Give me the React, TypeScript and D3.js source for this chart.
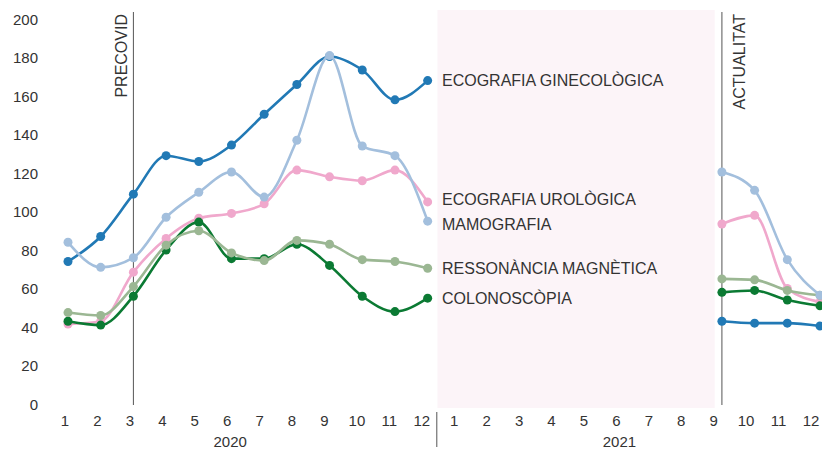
import React from "react";
import * as d3 from "d3";

const years = ["2020", "2021"];
const monthLabels = ["1", "2", "3", "4", "5", "6", "7", "8", "9", "10", "11", "12"];
const categories = years.flatMap((y) => monthLabels.map((m) => `${y}-${m}`));
const yTicks = [0, 20, 40, 60, 80, 100, 120, 140, 160, 180, 200];

const gap = [null, null, null, null, null, null, null, null];
const ginecologica = [74, 87, 109, 129, 126, 134.5, 150.5, 166, 180.5, 173.5, 158, 168, ...gap, 43, 42, 42, 40.5];
const urologica = [41.5, 43, 68.5, 86, 96.5, 99, 104, 121.5, 118, 116, 121.5, 105, ...gap, 93.5, 98, 60, 53];
const ressonancia = [47.5, 46, 61, 82.5, 90, 78.5, 74.5, 85, 83, 75, 74, 70.5, ...gap, 65, 64.5, 59, 56.5];
const colonoscopia = [43, 41, 56, 80, 94.5, 75.5, 75.5, 83, 72, 56, 48, 55, ...gap, 58, 59, 54, 51];
const mamografia = [84, 71, 76, 97, 110, 120.5, 107.5, 137, 181, 134, 129, 95, ...gap, 120.5, 111, 75, 56.5];

const seriesNames = ["ECOGRAFIA GINECOLÒGICA", "ECOGRAFIA UROLÒGICA", "COLONOSCÒPIA", "RESSONÀNCIA MAGNÈTICA", "MAMOGRAFIA"];
const seriesValues = [ginecologica, urologica, colonoscopia, ressonancia, mamografia];
const seriesColors = ["#2179b5", "#f0a8cc", "#0b7a33", "#9bb793", "#a3bfdd"];

const markers = [
  { label: "PRECOVID", cat: "2020-3", side: "left" },
  { label: "ACTUALITAT", cat: "2021-9", side: "right" },
];

const W = 822;
const H = 450;
const FONT = "'Liberation Sans', Arial, Helvetica, sans-serif";
const TEXT = "#333";

export default function App() {
  const x = d3.scalePoint<string>().domain(categories).range([68, 820]);
  const xLab = d3.scalePoint<string>().domain(categories).range([65, 811]);
  const step = x.step();
  const y = d3.scaleLinear().domain([0, 200]).range([404, 19]);

  const line = d3
    .line<number | null>()
    .defined((d) => d != null)
    .x((_, i) => x(categories[i]) as number)
    .y((d) => y(d as number))
    .curve(d3.curveMonotoneX);

  // label placement (simple collision avoidance)
  const lastIdx = 11;
  const labels = seriesNames.map((name, i) => ({
    name,
    y: y(seriesValues[i][lastIdx] as number),
  }));
  const sorted = [...labels].sort((a, b) => a.y - b.y);
  const minGap = 25;
  for (let iter = 0; iter < 50; iter++) {
    for (let k = 1; k < sorted.length; k++) {
      const d = sorted[k].y - sorted[k - 1].y;
      if (d < minGap) {
        const push = (minGap - d) / 2;
        sorted[k - 1].y -= push;
        sorted[k].y += push;
      }
    }
  }

  const xDec = x("2020-12") as number;
  const xSep = x("2021-9") as number;
  const shadeX0 = xDec + step * 0.3;
  const shadeX1 = xSep - step * 0.22;
  const yearSepX = xDec + step * 0.28;

  return (
    <svg
      width={W}
      height={H}
      style={{ position: "absolute", left: 0, top: 0, fontFamily: FONT }}
    >
      <rect x={0} y={0} width={W} height={H} fill="#fff" />
      <rect x={shadeX0} y={10} width={shadeX1 - shadeX0} height={398} fill="#fcf4f8" />

      {yTicks.map((t) => (
        <text key={t} x={38} y={y(t)} textAnchor="end" dominantBaseline="central" fontSize={15} fill={TEXT}>
          {t}
        </text>
      ))}

      {categories.map((c, i) => (
        <text
          key={c}
          x={xLab(c) as number}
          y={420}
          textAnchor="middle"
          dominantBaseline="central"
          fontSize={15}
          fill={TEXT}
        >
          {monthLabels[i % 12]}
        </text>
      ))}
      {years.map((yr) => (
        <text
          key={yr}
          x={(xLab(`${yr}-6`) as number) + 3}
          y={441}
          textAnchor="middle"
          dominantBaseline="central"
          fontSize={15}
          fill={TEXT}
        >
          {yr}
        </text>
      ))}
      <line x1={yearSepX} x2={yearSepX} y1={412} y2={447} stroke="#555" strokeWidth={1} />

      {markers.map((m) => {
        const mx = x(m.cat) as number;
        return (
          <g key={m.label}>
            <line x1={mx} x2={mx} y1={12} y2={405} stroke="#555" strokeWidth={1} />
            <text
              transform={`translate(${m.side === "left" ? mx - 6 : mx + 23},14) rotate(-90)`}
              textAnchor="end"
              fontSize={16}
              fill={TEXT}
            >
              {m.label}
            </text>
          </g>
        );
      })}

      {seriesValues.map((vals, si) => (
        <g key={seriesNames[si]}>
          <path d={line(vals) || ""} fill="none" stroke={seriesColors[si]} strokeWidth={2.6} />
          {vals.map((v, i) =>
            v == null ? null : (
              <circle key={i} cx={x(categories[i]) as number} cy={y(v)} r={4.5} fill={seriesColors[si]} />
            )
          )}
        </g>
      ))}

      {labels.map((l) => (
        <text key={l.name} x={442} y={l.y} dominantBaseline="central" fontSize={16} fill={TEXT}>
          {l.name}
        </text>
      ))}
    </svg>
  );
}
